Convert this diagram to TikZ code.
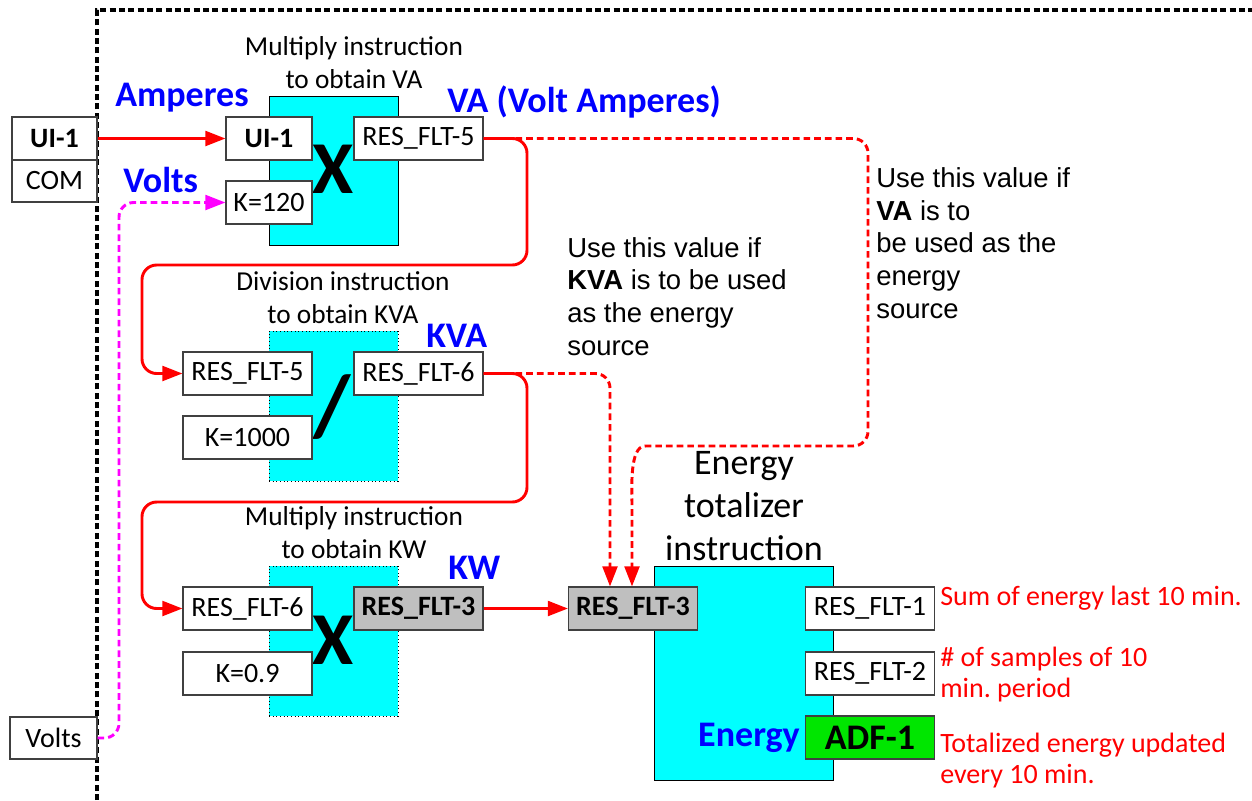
\documentclass[tikz,border=0pt]{standalone}
\usepackage{fontspec}
\setmainfont{Carlito}
\newfontfamily\arialf{Liberation Sans}
\usetikzlibrary{arrows.meta}
\definecolor{cyanfill}{RGB}{0,255,255}
\definecolor{grayfill}{RGB}{191,191,191}
\definecolor{greenfill}{RGB}{0,230,0}
\definecolor{labelblue}{RGB}{0,0,255}
\definecolor{redline}{RGB}{255,0,0}
\definecolor{magline}{RGB}{255,0,255}
\definecolor{boxline}{RGB}{64,64,64}
\begin{document}
\frenchspacing
\begin{tikzpicture}[x=0.75pt,y=-0.75pt,
  regbox/.style={draw=boxline, line width=0.8pt, fill=white, minimum width=96.75pt, minimum height=32.25pt, inner sep=0pt, font=\fontsize{21}{24}\selectfont},
  smallbox/.style={regbox, minimum width=64.5pt},
  graybox/.style={regbox, fill=grayfill, font=\fontsize{21}{24}\selectfont\bfseries},
  greenbox/.style={regbox, fill=greenfill, font=\fontsize{27}{30}\selectfont\bfseries},
  block/.style={draw=black, line width=0.75pt, fill=cyanfill, minimum width=96.75pt, inner sep=0pt},
  dotblock/.style={block, dotted, line width=0.6pt},
  bluelabel/.style={text=labelblue, font=\fontsize{27}{30}\selectfont\bfseries, inner sep=0pt, anchor=base west},
  title/.style={align=center, font=\fontsize{20.5}{24.75}\selectfont, inner sep=0pt, anchor=base},
  bigop/.style={font=\fontsize{56}{56}\selectfont\bfseries, inner sep=0pt},
  note/.style={text=redline, align=left, font=\fontsize{21}{23.25}\selectfont, inner sep=0pt, anchor=base west},
  hint/.style={align=left, font=\arialf\fontsize{20.6}{24.4}\selectfont, inner sep=0pt, anchor=base west},
  tip/.style={-{Triangle[length=15pt,width=11pt]}},
  redsolid/.style={draw=redline, line width=2.2pt, rounded corners=11pt, tip},
  reddot/.style={draw=redline, line width=2.2pt, dash pattern=on 5pt off 3pt, rounded corners=11pt, tip},
  magdot/.style={draw=magline, line width=2.2pt, dash pattern=on 5pt off 3pt, rounded corners=11pt, tip},
  fence/.style={draw=black, line width=2.4pt, dash pattern=on 4.5pt off 2.5pt}
]
\useasboundingbox (0,0) rectangle (1252,800);

% boundary
\draw[fence] (97,800) -- (97,10) -- (1252,10);

% blocks
\node[block, minimum height=111.75pt] (mul1) at (333.5,170.5) {};
\node[dotblock, minimum height=112.5pt] (div1) at (333.5,406) {};
\node[dotblock, minimum height=112.5pt] (mul2) at (333.5,641) {};
\node[block, minimum width=134.25pt, minimum height=160.5pt] (etot) at (743.5,673) {};

% operators
\node[bigop] (opx1) at (333,169) {X};
\node[bigop, font=\fontsize{65}{65}\selectfont\bfseries] (opdiv) at (332,407) {/};
\node[bigop] (opx2) at (333,640) {X};

% titles (base anchor = last line baseline)
\node[title] (t1) at (354,88) {Multiply instruction\\to obtain VA};
\node[title] (t2) at (343,323) {Division instruction\\to obtain KVA};
\node[title] (t3) at (354,558) {Multiply instruction\\to obtain KW};
\node[title, font=\fontsize{27}{32.25}\selectfont] (t4) at (744,560) {Energy\\totalizer\\instruction};

% blue labels
\node[bluelabel] (lamp) at (115,106) {Amperes};
\node[bluelabel] (lvolt) at (123,192) {Volts};
\node[bluelabel] (lva) at (447,112) {VA (Volt Amperes)};
\node[bluelabel] (lkva) at (426,347) {KVA};
\node[bluelabel] (lkw) at (448,579) {KW};
\node[bluelabel, anchor=base east] (lenergy) at (800,746) {Energy};

% left terminals
\node[regbox, minimum width=63.75pt, font=\fontsize{21}{24}\selectfont\bfseries] (ui1L) at (54.5,138.5) {UI-1};
\node[regbox, minimum width=63.75pt, minimum height=31.5pt] (comL) at (54.5,181) {COM};
\node[regbox, minimum width=65.25pt, minimum height=31.5pt] (voltsL) at (53.5,738) {Volts};

% multiply VA
\node[smallbox, font=\fontsize{21}{24}\selectfont\bfseries] (ui1in) at (269,138.5) {UI-1};
\node[smallbox] (k120) at (269,202.5) {K=120};
\node[regbox] (rf5out) at (418.5,138.5) {RES\_FLT-5};

% division KVA
\node[regbox] (rf5in) at (247.5,373.5) {RES\_FLT-5};
\node[regbox] (k1000) at (247.5,437.5) {K=1000};
\node[regbox] (rf6out) at (418.5,373.5) {RES\_FLT-6};

% multiply KW
\node[regbox] (rf6in) at (247.5,608.5) {RES\_FLT-6};
\node[regbox] (k09) at (247.5,673.5) {K=0.9};
\node[graybox] (rf3out) at (418.5,608.5) {RES\_FLT-3};

% energy totalizer
\node[graybox] (rf3in) at (633,608.5) {RES\_FLT-3};
\node[regbox] (rf1) at (870,608.5) {RES\_FLT-1};
\node[regbox] (rf2) at (870,673.5) {RES\_FLT-2};
\node[greenbox] (adf1) at (870,737.5) {ADF-1};

% notes
\node[note] (n1) at (940,605) {Sum of energy last 10 min.};
\node[note] (n2) at (940,697) {\# of samples of 10\\min. period};
\node[note] (n3) at (940,783) {Totalized energy updated\\every 10 min.};
\node[hint] (h1) at (567,355) {Use this value if\\\textbf{KVA} is to be used\\as the energy\\source};
\node[hint] (h2) at (876,318) {Use this value if\\\textbf{VA} is to\\be used as the\\energy\\source};

% coordinates for routing
\coordinate (r1) at (527,265);
\coordinate (r2) at (142,265);
\coordinate (r3) at (527,502);
\coordinate (r4) at (142,502);
\coordinate (v1) at (868,446);
\coordinate (v2) at (660,446);
\coordinate (v3) at (632,520);
\coordinate (kx) at (610,0);
\coordinate (vx) at (632,0);
\coordinate (mx) at (119,0);

% dotted branches
\draw[reddot] (rf5out.east) -| (v1) -- (v2) to[out=180,in=90] (v3) -- (vx |- rf3in.north);
\draw[reddot] (rf6out.east) -| (kx |- rf3in.north);
\draw[magdot] (voltsL.east) -| (mx |- k120.west) -- (k120.west);

% solid connectors
\draw[draw=redline, line width=2.2pt, tip] (ui1L.east) -- (ui1in.west);
\draw[redsolid] (rf5out.east) -| (r1) -- (r2) |- (rf5in.west);
\draw[redsolid] (rf6out.east) -| (r3) -- (r4) |- (rf6in.west);
\draw[redsolid] (rf3out.east) -- (rf3in.west);
\end{tikzpicture}
\end{document}
